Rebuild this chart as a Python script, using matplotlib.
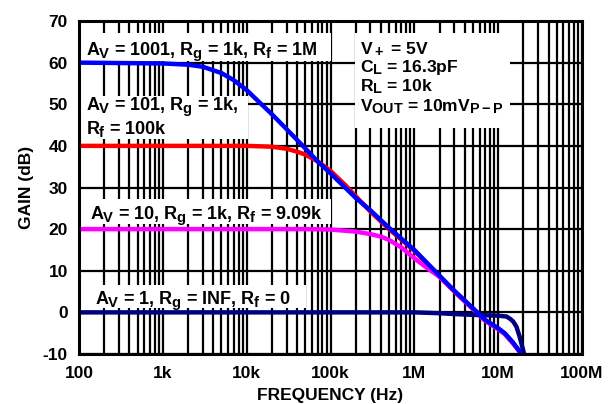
import matplotlib
matplotlib.use("Agg")
import matplotlib.pyplot as plt
from matplotlib.patches import Rectangle
from matplotlib.ticker import FixedLocator, NullFormatter, LogLocator
try:
    import matplotlib._mathtext as _mt
    _mt.SHRINK_FACTOR = 0.82
except Exception:
    pass

plt.rcParams['font.family'] = ['Liberation Sans', 'DejaVu Sans']
plt.rcParams['font.weight'] = 'bold'
plt.rcParams['axes.unicode_minus'] = False
plt.rcParams['mathtext.fontset'] = 'custom'
plt.rcParams['mathtext.rm'] = 'Liberation Sans:bold'
plt.rcParams['mathtext.it'] = 'Liberation Sans:bold'
plt.rcParams['mathtext.bf'] = 'Liberation Sans:bold'
plt.rcParams['mathtext.default'] = 'it'

# ---- data ----
f_1001 = [100, 1e3, 2e3, 3e3, 5e3, 7e3, 1e4, 1.5e4, 2e4, 3e4, 5e4, 7e4, 1e5, 2e5, 3e5,
          5e5, 1e6, 2e6, 3e6, 5e6, 7e6, 1e7, 1.2e7, 1.5e7, 1.9e7]
g_1001 = [60, 59.8, 59.5, 59, 57.5, 55.8, 53.4, 50, 47.6, 44, 39.4, 36.3, 33.4, 27.5, 24.5,
          20.3, 15, 8.8, 5.2, 1.0, -1.8, -3.8, -5.0, -7.2, -10]

f_101 = [100, 1e3, 1e4, 2e4, 3e4, 4e4, 5e4, 7e4, 1e5, 1.5e5, 2e5, 3e5, 5e5, 1e6, 2e6,
         3e6, 5e6, 7e6, 1e7, 1.2e7, 1.5e7, 1.9e7]
g_101 = [40, 40, 40, 39.8, 39.3, 38.6, 37.9, 36.3, 34, 30.6, 27.9, 24.2, 20.0, 14.8, 8.6,
         5.0, 0.8, -2.0, -4.0, -5.2, -7.4, -10]

f_10 = [100, 1e4, 5e4, 1e5, 2e5, 3e5, 4e5, 5e5, 7e5, 1e6, 1.5e6, 2e6, 3e6, 5e6, 7e6,
        1e7, 1.2e7, 1.5e7, 1.9e7]
g_10 = [20, 20, 20, 19.9, 19.4, 18.8, 18.2, 17.4, 15.6, 13, 10.3, 8.5, 5.1, 0.8, -2.0,
        -4.0, -5.2, -7.4, -10]

f_1 = [100, 1e4, 1e5, 1e6, 2e6, 3e6, 5e6, 1e7, 1.26e7, 1.4e7, 1.51e7, 1.65e7, 1.8e7, 2.04e7]
g_1 = [0, 0, 0, 0, -0.2, -0.4, -0.6, -0.8, -1.0, -1.6, -2.2, -3.4, -5.8, -10]

x_ticks = [1e2, 1e3, 1e4, 1e5, 1e6, 1e7, 1e8]
x_labels = ['100', '1k', '10k', '100k', '1M', '10M', '100M']
y_ticks = [-10, 0, 10, 20, 30, 40, 50, 60, 70]

labels_curves = [
    r'$A_V$ = 1001, $R_g$ = 1k, $R_f$ = 1M',
    r'$A_V$ = 101, $R_g$ = 1k,',
    r'$R_f$ = 100k',
    r'$A_V$ = 10, $R_g$ = 1k, $R_f$ = 9.09k',
    r'$A_V$ = 1, $R_g$ = INF, $R_f$ = 0',
]
cond_lines = [r'$V_+$ = 5V', r'$C_L$ = 16.3pF', r'$R_L$ = 10k', r'$V_{OUT}$ = 10m$V_{P-P}$']

# ---- figure ----
W, H = 613, 404
fig = plt.figure(figsize=(W / 100, H / 100), dpi=100)
L, R, T, B = 79, 582, 21, 354
ax = fig.add_axes([L / W, 1 - B / H, (R - L) / W, (B - T) / H])

ax.set_xscale('log')
ax.set_xlim(1e2, 1e8)
ax.set_ylim(-10, 70)
ax.xaxis.set_major_locator(FixedLocator(x_ticks))
ax.set_xticklabels(x_labels)
ax.xaxis.set_minor_locator(LogLocator(base=10, subs=range(2, 10), numticks=100))
ax.xaxis.set_minor_formatter(NullFormatter())
ax.set_yticks(y_ticks)
ax.tick_params(which='both', length=0, labelsize=12.5)
ax.tick_params(axis='x', pad=9)
ax.tick_params(axis='y', pad=8)
ax.grid(which='major', color='black', lw=1.6)
ax.grid(which='minor', axis='x', color='black', lw=1.6)
for s in ax.spines.values():
    s.set_linewidth(2.2)
    s.set_zorder(5)

def px2ax(x, y):
    return (x - L) / (R - L), (B - y) / (B - T)

def box(x0, y0, x1, y1):
    ax0, ay1 = px2ax(x0, y0)
    ax1, ay0 = px2ax(x1, y1)
    ax.add_patch(Rectangle((ax0, ay0), ax1 - ax0, ay1 - ay0, transform=ax.transAxes,
                           facecolor='white', edgecolor='none', zorder=2))

box(79, 33, 331, 61)
box(79, 96, 248, 139)
box(79, 199, 331, 224)
box(88, 285, 306, 308)
box(355, 33, 510, 128)

ax.plot(f_101, g_101, color='#ff0000', lw=3.2, zorder=3, solid_capstyle='butt')
ax.plot(f_10, g_10, color='#ff00ff', lw=3.2, zorder=3, solid_capstyle='butt')
ax.plot(f_1, g_1, color='#000080', lw=3.2, zorder=3, solid_capstyle='butt')
ax.plot(f_1001, g_1001, color='#0000ff', lw=3.2, zorder=3.1, solid_capstyle='butt')

def txt(x, y, s, size=13):
    xa, ya = px2ax(x, y)
    ax.text(xa, ya, s, transform=ax.transAxes, ha='left', va='baseline',
            fontsize=size, fontweight='bold', zorder=4)

txt(86, 55, labels_curves[0])
txt(86, 110, labels_curves[1])
txt(86, 134, labels_curves[2])
txt(90, 219, labels_curves[3])
txt(95, 304, labels_curves[4])
for i, s in enumerate(cond_lines):
    txt(360, 53 + i * 19.3, s, size=12.6)

ax.set_xlabel('FREQUENCY (Hz)', fontsize=12.5, fontweight='bold', labelpad=5)
ax.set_ylabel('GAIN (dB)', fontsize=12.5, fontweight='bold', labelpad=6)

fig.savefig('out.png', dpi=100)
